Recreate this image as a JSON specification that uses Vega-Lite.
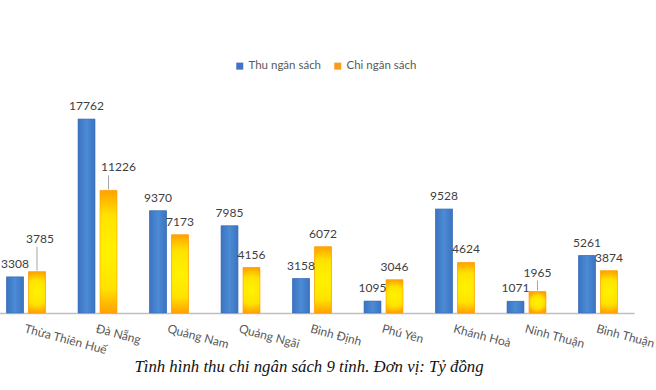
{
  "$schema": "https://vega.github.io/schema/vega-lite/v6.json",
  "autosize": {"type": "none"},
  "padding": {"left": 0, "top": 63, "right": 20, "bottom": 77},
  "width": 636,
  "height": 250,
  "background": "white",
  "title": {
    "text": "Tình hình thu chi ngân sách 9 tỉnh. Đơn vị: Tỷ đồng",
    "orient": "bottom",
    "anchor": "middle",
    "font": "Liberation Serif",
    "fontStyle": "italic",
    "fontWeight": "normal",
    "fontSize": 16.8,
    "color": "#111111",
    "dx": -9,
    "offset": 3
  },
  "config": {
    "view": {"stroke": null},
    "font": "Lato"
  },
  "data": {
    "values": [
      {"prov": "Thừa Thiên Huế", "series": "Thu ngân sách", "value": 3308},
      {"prov": "Thừa Thiên Huế", "series": "Chi ngân sách", "value": 3785},
      {"prov": "Đà Nẵng", "series": "Thu ngân sách", "value": 17762},
      {"prov": "Đà Nẵng", "series": "Chi ngân sách", "value": 11226},
      {"prov": "Quảng Nam", "series": "Thu ngân sách", "value": 9370},
      {"prov": "Quảng Nam", "series": "Chi ngân sách", "value": 7173},
      {"prov": "Quảng Ngãi", "series": "Thu ngân sách", "value": 7985},
      {"prov": "Quảng Ngãi", "series": "Chi ngân sách", "value": 4156},
      {"prov": "Bình Định", "series": "Thu ngân sách", "value": 3158},
      {"prov": "Bình Định", "series": "Chi ngân sách", "value": 6072},
      {"prov": "Phú Yên", "series": "Thu ngân sách", "value": 1095},
      {"prov": "Phú Yên", "series": "Chi ngân sách", "value": 3046},
      {"prov": "Khánh Hoà", "series": "Thu ngân sách", "value": 9528},
      {"prov": "Khánh Hoà", "series": "Chi ngân sách", "value": 4624},
      {"prov": "Ninh Thuận", "series": "Thu ngân sách", "value": 1071},
      {"prov": "Ninh Thuận", "series": "Chi ngân sách", "value": 1965},
      {"prov": "Bình Thuận", "series": "Thu ngân sách", "value": 5261},
      {"prov": "Bình Thuận", "series": "Chi ngân sách", "value": 3874}
    ]
  },
  "encoding": {
    "x": {
      "field": "prov",
      "type": "nominal",
      "sort": null,
      "scale": {"range": [-10, 634], "paddingInner": 0.455, "paddingOuter": 0.231},
      "axis": {
        "title": null,
        "labelAngle": 15,
        "labelAlign": "left",
        "labelBaseline": "top",
        "labelPadding": 10,
        "labelFont": "Lato",
        "labelFontSize": 12,
        "labelColor": "#595959",
        "ticks": false,
        "domainColor": "#BFBFBF",
        "domainWidth": 1.3,
        "grid": false
      }
    },
    "xOffset": {
      "field": "series",
      "type": "nominal",
      "sort": ["Thu ngân sách", "Chi ngân sách"],
      "scale": {"paddingInner": 0.227, "paddingOuter": 0}
    },
    "y": {
      "field": "value",
      "type": "quantitative",
      "scale": {"domain": [0, 22890], "nice": false, "zero": true},
      "axis": null
    }
  },
  "layer": [
    {
      "mark": {"type": "bar"},
      "encoding": {
        "color": {
          "field": "series",
          "type": "nominal",
          "sort": ["Thu ngân sách", "Chi ngân sách"],
          "scale": {"domain": ["Thu ngân sách", "Chi ngân sách"], "range": ["#4472C4", "#FF9A1A"]},
          "legend": {
            "title": null,
            "orient": "none",
            "direction": "horizontal",
            "legendX": 234,
            "legendY": -3,
            "symbolType": "square",
            "symbolSize": 49,
            "symbolStrokeWidth": 0,
            "labelFont": "Lato",
            "labelFontSize": 11.5,
            "labelColor": "#595959",
            "labelOffset": 3,
            "columnPadding": 10
          }
        }
      }
    },
    {
      "transform": [{"filter": "datum.series == 'Thu ngân sách'"}],
      "mark": {
        "type": "bar",
        "stroke": "#3B6FB8",
        "strokeWidth": 0.6,
        "fill": {
          "gradient": "linear",
          "x1": 0, "y1": 0, "x2": 1, "y2": 0,
          "stops": [
            {"offset": 0, "color": "#3C73C0"},
            {"offset": 0.5, "color": "#4C8BD5"},
            {"offset": 1, "color": "#3C73C0"}
          ]
        }
      }
    },
    {
      "transform": [{"filter": "datum.series == 'Chi ngân sách'"}],
      "mark": {
        "type": "bar",
        "stroke": "#FFA000",
        "strokeWidth": 0.6,
        "fill": {
          "gradient": "radial",
          "x1": 0.5, "y1": 0.5, "r1": 0,
          "x2": 0.5, "y2": 0.5, "r2": 0.5,
          "stops": [
            {"offset": 0, "color": "#FFF200"},
            {"offset": 0.6, "color": "#FFE200"},
            {"offset": 1, "color": "#FFA200"}
          ]
        }
      }
    },
    {
      "transform": [{"filter": "!((datum.prov == 'Thừa Thiên Huế' || datum.prov == 'Đà Nẵng' || datum.prov == 'Ninh Thuận') && datum.series == 'Chi ngân sách')"}],
      "mark": {"type": "text", "baseline": "alphabetic", "dy": -9, "font": "Lato", "fontSize": 12, "color": "#404040"},
      "encoding": {"text": {"field": "value", "type": "quantitative", "format": "d"}}
    },
    {
      "transform": [{"filter": "datum.prov == 'Thừa Thiên Huế' && datum.series == 'Chi ngân sách'"}],
      "layer": [
        {"mark": {"type": "text", "baseline": "alphabetic", "dy": -29, "dx": 3, "font": "Lato", "fontSize": 12, "color": "#404040"},
         "encoding": {"text": {"field": "value", "type": "quantitative", "format": "d"}}},
        {"mark": {"type": "rule", "color": "#A6A6A6", "strokeWidth": 1, "yOffset": -1, "y2Offset": -25},
         "encoding": {"y2": {"field": "value"}}}
      ]
    },
    {
      "transform": [{"filter": "datum.prov == 'Đà Nẵng' && datum.series == 'Chi ngân sách'"}],
      "layer": [
        {"mark": {"type": "text", "baseline": "alphabetic", "dy": -19, "dx": 10, "font": "Lato", "fontSize": 12, "color": "#404040"},
         "encoding": {"text": {"field": "value", "type": "quantitative", "format": "d"}}},
        {"mark": {"type": "rule", "color": "#A6A6A6", "strokeWidth": 1, "yOffset": -1, "y2Offset": -15},
         "encoding": {"y2": {"field": "value"}}}
      ]
    },
    {
      "transform": [{"filter": "datum.prov == 'Ninh Thuận' && datum.series == 'Chi ngân sách'"}],
      "layer": [
        {"mark": {"type": "text", "baseline": "alphabetic", "dy": -15, "font": "Lato", "fontSize": 12, "color": "#404040"},
         "encoding": {"text": {"field": "value", "type": "quantitative", "format": "d"}}},
        {"mark": {"type": "rule", "color": "#A6A6A6", "strokeWidth": 1, "yOffset": -1, "y2Offset": -11},
         "encoding": {"y2": {"field": "value"}}}
      ]
    }
  ]
}
